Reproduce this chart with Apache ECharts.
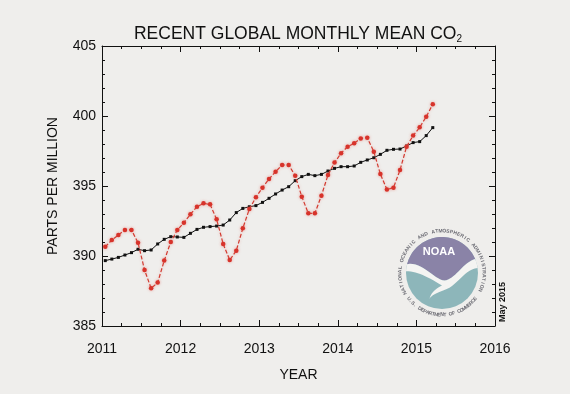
<!DOCTYPE html>
<html><head><meta charset="utf-8">
<script src="https://cdn.jsdelivr.net/npm/echarts@6/dist/echarts.min.js"></script>
<style>html,body{margin:0;padding:0;background:#efeeec}#c{width:570px;height:394px}</style>
</head><body><div id="c"></div>
<script>
// Monthly labels (Jan 2011 .. Mar 2015)
const months = [
 "2011-01","2011-02","2011-03","2011-04","2011-05","2011-06","2011-07","2011-08","2011-09","2011-10","2011-11","2011-12",
 "2012-01","2012-02","2012-03","2012-04","2012-05","2012-06","2012-07","2012-08","2012-09","2012-10","2012-11","2012-12",
 "2013-01","2013-02","2013-03","2013-04","2013-05","2013-06","2013-07","2013-08","2013-09","2013-10","2013-11","2013-12",
 "2014-01","2014-02","2014-03","2014-04","2014-05","2014-06","2014-07","2014-08","2014-09","2014-10","2014-11","2014-12",
 "2015-01","2015-02","2015-03"];
// Monthly mean CO2 (red dashed)
const monthlyMean = [
 390.66,391.14,391.50,391.86,391.86,390.95,389.00,387.69,388.10,389.67,391.00,391.86,
 392.38,392.98,393.52,393.76,393.69,392.62,390.86,389.71,390.38,391.98,393.36,394.19,
 394.88,395.50,396.02,396.50,396.50,395.74,394.24,393.05,393.05,394.31,395.79,396.67,
 397.34,397.81,398.05,398.40,398.45,397.45,395.85,394.75,394.88,396.14,397.81,398.60,
 399.19,399.95,400.84];
// Seasonally corrected trend (black)
const trend = [
 389.67,389.78,389.90,390.07,390.24,390.48,390.38,390.43,390.86,391.19,391.38,391.36,
 391.33,391.62,391.90,392.05,392.10,392.14,392.21,392.57,393.10,393.40,393.52,393.60,
 393.83,394.12,394.43,394.71,394.95,395.38,395.67,395.83,395.74,395.83,396.07,396.26,
 396.38,396.38,396.43,396.69,396.86,397.02,397.26,397.55,397.62,397.64,397.86,398.10,
 398.17,398.60,399.17];
const xTicks = [2011, 2012, 2013, 2014, 2015, 2016];
const yTicks = [385, 390, 395, 400, 405];

function toYear(m){ const [y, mo] = m.split("-").map(Number); return y + (mo - 0.5) / 12; }
const redData = months.map((m, i) => [toYear(m), monthlyMean[i]]);
const blackData = months.map((m, i) => [toYear(m), trend[i]]);

const FONT = "Liberation Sans, Arial, Helvetica, sans-serif";
const INK = "#111111";

// NOAA logo graphic (decorative)
const cx = 442, cy = 273, r = 36, R = 42;
function P(u, v){ return [cx + u * r, cy + v * r]; }
function bez(p0, p1, p2, p3, n){
  const out = [];
  for (let k = 1; k <= n; k++){
    const t = k / n, a = (1-t)*(1-t)*(1-t), b = 3*(1-t)*(1-t)*t, c = 3*(1-t)*t*t, d = t*t*t;
    out.push(P(a*p0[0]+b*p1[0]+c*p2[0]+d*p3[0], a*p0[1]+b*p1[1]+c*p2[1]+d*p3[1]));
  }
  return out;
}
function arc(a0, a1, n){
  const out = [];
  for (let k = 0; k <= n; k++){ const a = (a0 + (a1 - a0) * k / n) * Math.PI / 180; out.push(P(Math.cos(a), Math.sin(a))); }
  return out;
}
const upper = [P(-0.97, -0.24)]
  .concat(bez([-0.97,-0.24], [-0.55,-0.36], [-0.15,0.28], [0.12,0.2], 16))
  .concat(bez([0.12,0.2], [0.4,0.12], [0.6,-0.3], [0.92,-0.39], 16));
const purplePts = upper.concat(arc(-23, -166, 40));
const birdPts = upper.concat(arc(-23, -8, 6))
  .concat(bez([Math.cos(-8*Math.PI/180), Math.sin(-8*Math.PI/180)], [0.6,-0.1], [0.45,0.35], [0.05,0.48], 14))
  .concat(bez([0.05,0.48], [-0.15,0.55], [-0.3,0.62], [-0.35,0.72], 8))
  .concat(bez([-0.35,0.72], [-0.3,0.5], [-0.1,0.4], [0.0,0.35], 8))
  .concat(bez([0.0,0.35], [-0.4,0.1], [-0.7,-0.05], [-0.99,-0.05], 14))
  .concat(arc(183, 194, 4));

const logo = [
  { type: "circle", shape: { cx: cx, cy: cy, r: r }, style: { fill: "#8db6ba" }, z: 10 },
  { type: "polygon", shape: { points: purplePts }, style: { fill: "#8a83a7" }, z: 11 },
  { type: "polygon", shape: { points: birdPts }, style: { fill: "#f4f4f2" }, z: 12 },
  { type: "text", x: cx - 3, y: cy - 21, style: { text: "NOAA", fill: "#ffffff", font: "bold 11px " + FONT, textAlign: "center", textVerticalAlign: "middle" }, z: 13 }
];
const topText = "NATIONAL OCEANIC AND ATMOSPHERIC ADMINISTRATION";
const botText = "U.S. DEPARTMENT OF COMMERCE";
(function(){
  const a0 = -118, a1 = 114; // clockwise from top
  for (let k = 0; k < topText.length; k++){
    const th = (a0 + (a1 - a0) * k / (topText.length - 1)) * Math.PI / 180;
    logo.push({ type: "text", x: cx + R * Math.sin(th), y: cy - R * Math.cos(th), rotation: -th,
      style: { text: topText[k], fill: "#6c6c74", font: "bold 5px " + FONT, textAlign: "center", textVerticalAlign: "middle" }, z: 13 });
  }
  const b0 = -52, b1 = 52; // from bottom, + to the right
  for (let k = 0; k < botText.length; k++){
    const al = (b0 + (b1 - b0) * k / (botText.length - 1)) * Math.PI / 180;
    logo.push({ type: "text", x: cx + R * Math.sin(al), y: cy + R * Math.cos(al), rotation: al,
      style: { text: botText[k], fill: "#6c6c74", font: "bold 5px " + FONT, textAlign: "center", textVerticalAlign: "middle" }, z: 13 });
  }
})();

const chart = echarts.init(document.getElementById("c"), null, { renderer: "canvas" });
const axisLine = { show: true, lineStyle: { color: INK, width: 1 } };
chart.setOption({
  backgroundColor: "#efeeec",
  animation: false,
  grid: { left: 102, right: 75, top: 46, bottom: 68, show: false },
  xAxis: [
    { type: "value", min: xTicks[0], max: xTicks[xTicks.length - 1], interval: 1, position: "bottom",
      axisLine: axisLine, splitLine: { show: false },
      axisTick: { show: true, inside: true, length: 6, lineStyle: { color: INK } },
      minorTick: { show: true, splitNumber: 4, length: 3, lineStyle: { color: INK } },
      axisLabel: { margin: 16, fontSize: 14, color: INK, fontFamily: FONT, formatter: v => String(v) },
      name: "YEAR", nameLocation: "middle", nameGap: 42, nameTextStyle: { fontSize: 14, color: INK, fontFamily: FONT } },
    { type: "value", min: xTicks[0], max: xTicks[xTicks.length - 1], interval: 1, position: "top",
      axisLine: axisLine, splitLine: { show: false }, axisLabel: { show: false },
      axisTick: { show: true, inside: true, length: 6, lineStyle: { color: INK } },
      minorTick: { show: true, splitNumber: 4, length: 3, lineStyle: { color: INK } } }
  ],
  yAxis: [
    { type: "value", min: yTicks[0], max: yTicks[yTicks.length - 1], interval: 5, position: "left",
      axisLine: axisLine, splitLine: { show: false },
      axisTick: { show: true, inside: true, length: 6, lineStyle: { color: INK } },
      minorTick: { show: true, splitNumber: 5, length: 3, lineStyle: { color: INK } },
      axisLabel: { margin: 6, fontSize: 14, color: INK, fontFamily: FONT },
      name: "PARTS PER MILLION", nameLocation: "middle", nameRotate: 90, nameGap: 42,
      nameTextStyle: { fontSize: 14, color: INK, fontFamily: FONT } },
    { type: "value", min: yTicks[0], max: yTicks[yTicks.length - 1], interval: 5, position: "right",
      axisLine: axisLine, splitLine: { show: false }, axisLabel: { show: false },
      axisTick: { show: true, inside: true, length: 6, lineStyle: { color: INK } },
      minorTick: { show: true, splitNumber: 5, length: 3, lineStyle: { color: INK } } }
  ],
  graphic: [
    { type: "text", x: 298, y: 34, z: 20,
      style: { rich: { a: { fontSize: 17.5, fontFamily: FONT, fill: INK }, s: { fontSize: 10, fontFamily: FONT, fill: INK, padding: [10, 0, 0, 0] } },
        text: "{a|RECENT GLOBAL MONTHLY MEAN CO}{s|2}", textAlign: "center", textVerticalAlign: "middle" } },
    { type: "text", x: 503, y: 302, rotation: Math.PI / 2, z: 20,
      style: { text: "May 2015", font: "bold 9px " + FONT, fill: INK, textAlign: "center", textVerticalAlign: "middle" } }
  ].concat(logo),
  series: [
    { type: "line", data: blackData, xAxisIndex: 0, yAxisIndex: 0, z: 3,
      symbol: "rect", symbolSize: 3, showSymbol: true,
      lineStyle: { color: "#111", width: 1 }, itemStyle: { color: "#111" } },
    { type: "line", data: redData, xAxisIndex: 0, yAxisIndex: 0, z: 4,
      symbol: "circle", symbolSize: 4.5, showSymbol: true,
      lineStyle: { color: "#d23a30", width: 1.2, type: [4, 2], shadowColor: "rgba(230,120,110,0.45)", shadowBlur: 3 },
      itemStyle: { color: "#d7332b", shadowColor: "rgba(230,110,100,0.6)", shadowBlur: 3 } }
  ]
});
</script></body></html>
